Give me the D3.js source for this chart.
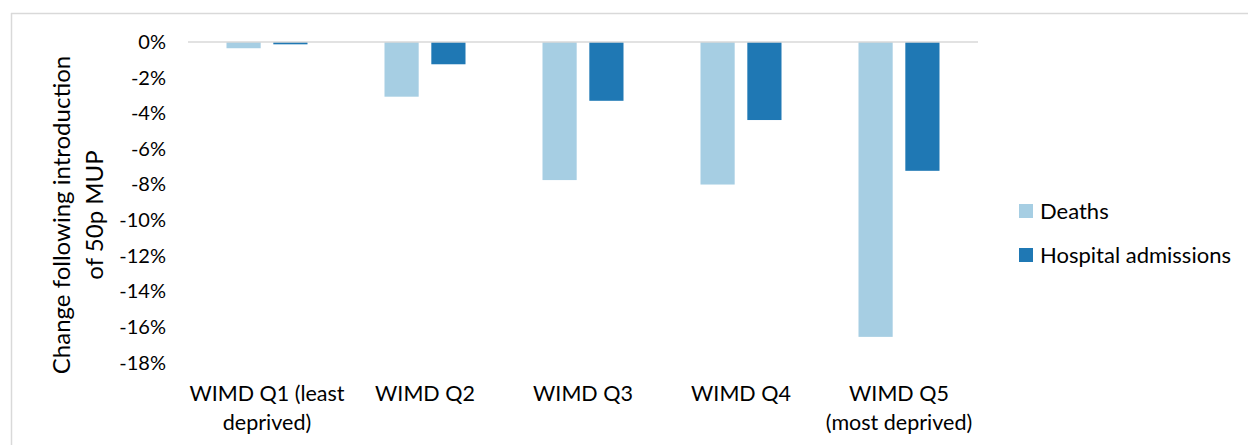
<!DOCTYPE html>
<html>
<head>
<meta charset="utf-8">
<script src="https://cdn.jsdelivr.net/npm/d3@7"></script>
<style>
  body { margin: 0; background: #fff; }
  text { font-family: Lato, "Liberation Sans", Arial, sans-serif; fill: #000; }
</style>
</head>
<body>
<div id="chart"></div>
<script>
'use strict';

const categories = [
    ['WIMD Q1 (least', 'deprived)'],
    ['WIMD Q2'],
    ['WIMD Q3'],
    ['WIMD Q4'],
    ['WIMD Q5', '(most deprived)']
];
const seriesNames = ['Deaths', 'Hospital admissions'];
const deaths = [-0.35, -3.07, -7.75, -8.0, -16.55];
const admissions = [-0.13, -1.25, -3.3, -4.38, -7.23];
const yTicks = [0, -2, -4, -6, -8, -10, -12, -14, -16, -18];
const colours = ['#a6cee3', '#1f78b4'];

const width = 1248, height = 445;

const svg = d3.select('#chart').append('svg')
    .attr('width', width)
    .attr('height', height);

// outer frame (only left and top edges show)
svg.append('line').attr('x1', 11.5).attr('x2', 11.5).attr('y1', 13).attr('y2', height)
    .attr('stroke', '#d9d9d9').attr('stroke-width', 1.5);
svg.append('line').attr('x1', 11).attr('x2', width).attr('y1', 13.5).attr('y2', 13.5)
    .attr('stroke', '#d9d9d9').attr('stroke-width', 1.5);

const x = d3.scaleBand().domain(d3.range(categories.length)).range([188, 978]);
const xInner = d3.scaleBand().domain([0, 1]).range([0, 81]).paddingInner(0.27);
const y = d3.scaleLinear().domain([0, -18]).range([42, 362.7]);

const rows = categories.map(function( c, i ) { return [deaths[i], admissions[i]]; });

// bars
const groups = svg.append('g').selectAll('g')
    .data(rows)
    .enter().append('g')
    .attr('transform', function( d, i ) { return 'translate(' + (x(i) + (x.bandwidth() - 81) / 2) + ',0)'; });

groups.selectAll('rect')
    .data(function( d ) { return d; })
    .enter().append('rect')
    .attr('x', function( d, j ) { return xInner(j); })
    .attr('y', y(0))
    .attr('width', xInner.bandwidth())
    .attr('height', function( d ) { return y(d) - y(0); })
    .attr('fill', function( d, j ) { return colours[j]; });

// zero line
svg.append('line')
    .attr('x1', x.range()[0]).attr('x2', x.range()[1])
    .attr('y1', y(0)).attr('y2', y(0))
    .attr('stroke', '#d9d9d9').attr('stroke-width', 1.5);

// y axis labels
const yAxis = svg.append('g')
    .attr('transform', 'translate(166,0)')
    .call(d3.axisLeft(y).tickValues(yTicks).tickSize(0).tickPadding(0)
        .tickFormat(function( d ) { return d + '%'; }));
yAxis.select('.domain').remove();
yAxis.selectAll('text')
    .attr('font-family', 'Lato, "Liberation Sans", Arial, sans-serif')
    .attr('font-size', '20px')
    .attr('fill', '#000');

// y axis title
const yTitle = svg.append('text')
    .attr('transform', 'translate(0,215) rotate(-90)')
    .attr('text-anchor', 'middle')
    .attr('font-size', '24px');
yTitle.append('tspan').attr('x', 0).attr('y', 70).text('Change following introduction');
yTitle.append('tspan').attr('x', 0).attr('y', 103).text('of 50p MUP');

// category labels
const catLabels = svg.append('g').selectAll('text')
    .data(categories)
    .enter().append('text')
    .attr('text-anchor', 'middle')
    .attr('font-size', '21.5px')
    .attr('transform', function( d, i ) { return 'translate(' + (x(i) + x.bandwidth() / 2) + ',0)'; });
catLabels.selectAll('tspan')
    .data(function( d ) { return d; })
    .enter().append('tspan')
    .attr('x', 0)
    .attr('y', function( d, k ) { return 401 + k * 29; })
    .text(function( d ) { return d; });

// legend
const legend = svg.append('g').selectAll('g')
    .data(seriesNames)
    .enter().append('g')
    .attr('transform', function( d, i ) { return 'translate(1019,' + (204 + i * 44) + ')'; });
legend.append('rect')
    .attr('width', 14).attr('height', 14)
    .attr('fill', function( d, i ) { return colours[i]; });
legend.append('text')
    .attr('x', 21).attr('y', 15)
    .attr('font-size', '22px')
    .text(function( d ) { return d; });
</script>
</body>
</html>
